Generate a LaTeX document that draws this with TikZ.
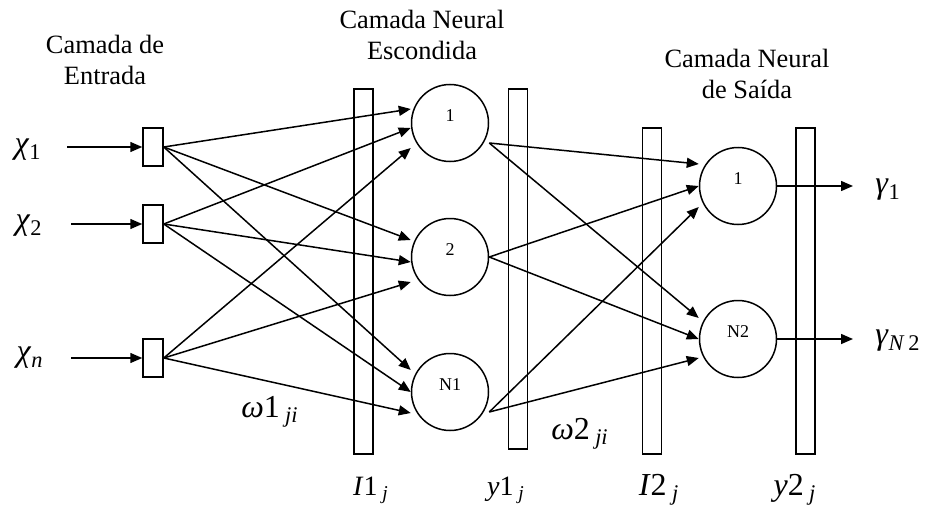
\documentclass[tikz,border=0pt]{standalone}
\usepackage{fontspec}
\setmainfont{Liberation Serif}
\usepackage{tikz}
\usetikzlibrary{arrows.meta}
\newcommand{\lsub}[1]{\textsubscript{#1}}

\begin{document}
\begin{tikzpicture}[x=0.5pt, y=-0.5pt, line width=0.75pt, font=\fontsize{13.2}{15.5}\selectfont,
  cx/.style={-{Triangle[length=6pt,width=5pt]}},
  inbox/.style={draw, minimum width=10pt, minimum height=19pt, inner sep=0pt},
  bar/.style={draw, minimum width=9.5pt, inner sep=0pt},
  neuron/.style={draw, circle, minimum size=38.5pt, inner sep=0pt, text depth=7pt, font=\fontsize{9}{9}\selectfont},
  var/.style={font=\fontsize{16}{16}\selectfont, inner sep=0pt},
  lay/.style={font=\fontsize{14}{14}\selectfont, inner sep=0pt}]
  \useasboundingbox (0,0) rectangle (925,508);

  % layer titles
  \node[align=center] (tin) at (105,60) {Camada de\\Entrada};
  \node[align=center] (thid) at (422,35) {Camada Neural\\Escondida};
  \node[align=center] (tout) at (747,74) {Camada Neural\\de Saída};

  % inputs
  \node[inbox] (i1) at (153,147) {}; \node[inbox] (i2) at (153,224) {}; \node[inbox] (i3) at (153,358) {};
  \node[var] (lx1) at (28,150) {\textit{χ}\lsub{1}};
  \node[var] (lx2) at (29,226) {\textit{χ}\lsub{2}};
  \node[var] (lxn) at (30,358) {\textit{χ}\lsub{\textit{n}}};
  \coordinate (a1) at (67,147); \coordinate (a2) at (71,224); \coordinate (a3) at (71,358);
  \draw[cx] (a1) -- (i1.west); \draw[cx] (a2) -- (i2.west); \draw[cx] (a3) -- (i3.west);

  % bars
  \node[bar, minimum height=182.5pt] (bI1) at (363.5,271.5) {};
  \node[bar, minimum height=180pt] (by1) at (518,269) {};
  \node[bar, minimum height=163pt] (bI2) at (652,291) {};
  \node[bar, minimum height=163pt] (by2) at (805.5,291) {};

  % neurons
  \node[neuron] (h1) at (450,123) {1};
  \node[neuron] (h2) at (450,257) {2};
  \node[neuron] (h3) at (450,392) {N1};
  \node[neuron] (o1) at (738,186) {1};
  \node[neuron] (o2) at (738,339) {N2};

  % input -> hidden
  \draw[cx] (i1.east) -- ([yshift=7pt]h1.west); \draw[cx] (i2.east) -- ([yshift=-2.5pt]h1.west); \draw[cx] (i3.east) -- ([yshift=-12.5pt]h1.west);
  \draw[cx] (i1.east) -- ([yshift=8.5pt]h2.west); \draw[cx] (i2.east) -- ([yshift=-2.5pt]h2.west); \draw[cx] (i3.east) -- ([yshift=-12.5pt]h2.west);
  \draw[cx] (i1.east) -- ([yshift=11pt]h3.west); \draw[cx] (i2.east) -- (h3.west); \draw[cx] (i3.east) -- ([yshift=-10.5pt]h3.west);

  % hidden -> output
  \draw[cx] ([yshift=-10pt]h1.east) -- ([yshift=11pt]o1.west); \draw[cx] (h2.east) -- (o1.west); \draw[cx] ([yshift=-10pt]h3.east) -- ([yshift=-10.5pt]o1.west);
  \draw[cx] ([yshift=-10pt]h1.east) -- ([yshift=10.5pt]o2.west); \draw[cx] (h2.east) -- (o2.west); \draw[cx] ([yshift=-10pt]h3.east) -- ([yshift=-9.5pt]o2.west);

  % outputs
  \coordinate (z1) at (853,186); \coordinate (z2) at (853,339);
  \draw[cx] (o1.east) -- (z1); \draw[cx] (o2.east) -- (z2);
  \node[var] (ly1) at (888,190) {\textit{γ}\lsub{1}};
  \node[var] (ly2) at (898,341) {\textit{γ}\lsub{\textit{N}\,2}};

  % weights and signals
  \node[var] (w1) at (270,412) {\textit{ω}1\,\lsub{\textit{ji}}};
  \node[var] (w2) at (580,434) {\textit{ω}2\,\lsub{\textit{ji}}};
  \node[lay] (sI1) at (371,490) {\textit{I}1\,\lsub{\textit{j}}};
  \node[lay] (sy1) at (506,490) {\textit{y}1\,\lsub{\textit{j}}};
  \node[var] (sI2) at (659,490) {\textit{I}2\,\lsub{\textit{j}}};
  \node[var] (sy2) at (795,490) {\textit{y}2\,\lsub{\textit{j}}};
\end{tikzpicture}
\end{document}
